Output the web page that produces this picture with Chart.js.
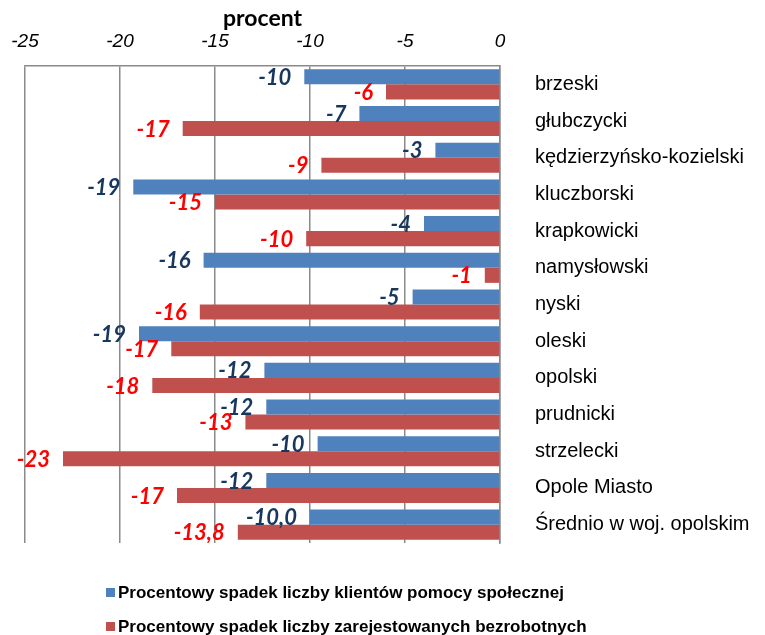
<!DOCTYPE html>
<html lang="pl">
<head>
  <meta charset="UTF-8">
  <title>procent</title>
  <script src="https://cdn.jsdelivr.net/npm/chart.js"></script>
  <style>
    html, body { margin: 0; padding: 0; background: #fff; }
    #wrap { width: 765px; height: 635px; }
  </style>
</head>
<body>
  <div id="wrap">
    <canvas id="dropChart" width="765" height="635"></canvas>
  </div>

  <script>
    // dane
    const categories = [
      'brzeski', 'głubczycki', 'kędzierzyńsko-kozielski', 'kluczborski',
      'krapkowicki', 'namysłowski', 'nyski', 'oleski', 'opolski',
      'prudnicki', 'strzelecki', 'Opole Miasto', 'Średnio w woj. opolskim'
    ];
    const clientDrop = [-10.3, -7.4, -3.4, -19.3, -4.0, -15.6, -4.6, -19.0, -12.4, -12.3, -9.6, -12.3, -10.0];
    const unemployedDrop = [-6.0, -16.7, -9.4, -15.0, -10.2, -0.8, -15.8, -17.3, -18.3, -13.4, -23.0, -17.0, -13.8];
    const xTicks = [-25, -20, -15, -10, -5, 0];
    const seriesNames = [
      'Procentowy spadek liczby klientów pomocy społecznej',
      'Procentowy spadek liczby zarejestowanych bezrobotnych'
    ];

    const barColors = ['#4F81BD', '#C0504D'];
    const labelColors = ['#17375E', '#FF0000'];
    const gridColor = '#8a8a8a';

    // etykiety wartości: ostatnia kategoria (średnia) z jednym miejscem po przecinku
    function formatValue(v, i) {
      if (i === categories.length - 1) return v.toFixed(1).replace('.', ',');
      return String(Math.round(v));
    }

    const valueLabels = {
      id: 'valueLabels',
      afterDatasetsDraw(chart) {
        const ctx = chart.ctx;
        ctx.save();
        ctx.font = 'italic bold 22px Lato';
        ctx.textAlign = 'right';
        ctx.textBaseline = 'middle';
        chart.data.datasets.forEach((ds, di) => {
          const meta = chart.getDatasetMeta(di);
          ctx.fillStyle = labelColors[di];
          meta.data.forEach((bar, i) => {
            ctx.fillText(formatValue(ds.data[i], i), bar.x - 13, bar.y + 1);
          });
        });
        ctx.restore();
      }
    };

    // legenda w dwóch wierszach, wyrównana do lewej
    const stackedLegend = {
      id: 'stackedLegend',
      afterDraw(chart) {
        const ctx = chart.ctx;
        ctx.save();
        ctx.font = 'bold 17px "Liberation Sans", Arial';
        ctx.textBaseline = 'middle';
        ctx.textAlign = 'left';
        const rows = [592, 626];
        chart.data.datasets.forEach((ds, di) => {
          ctx.fillStyle = ds.backgroundColor;
          ctx.fillRect(106, rows[di] - 4, 9, 9);
          ctx.fillStyle = '#000';
          ctx.fillText(ds.label, 118, rows[di] + 1);
        });
        ctx.restore();
      }
    };

    const ctx = document.getElementById('dropChart').getContext('2d');
    const dropChart = new Chart(ctx, {
      type: 'bar',
      data: {
        labels: categories,
        datasets: [
          { label: seriesNames[0], data: clientDrop, backgroundColor: barColors[0] },
          { label: seriesNames[1], data: unemployedDrop, backgroundColor: barColors[1] }
        ]
      },
      options: {
        indexAxis: 'y',
        responsive: false,
        animation: false,
        layout: { padding: { top: 0, left: 25, right: 0, bottom: 92 } },
        datasets: {
          bar: { categoryPercentage: 0.82, barPercentage: 1.0 }
        },
        plugins: {
          legend: { display: false },
          tooltip: { enabled: false }
        },
        scales: {
          x: {
            position: 'top',
            min: -25,
            max: 0,
            afterBuildTicks(scale) {
              scale.ticks = xTicks.map(v => ({ value: v }));
            },
            afterFit(scale) {
              scale.height = 66;
              scale.paddingLeft = 0;
            },
            grid: { color: gridColor, lineWidth: 1.5, drawTicks: false },
            border: { color: gridColor, width: 1.5 },
            ticks: {
              color: '#000',
              padding: 13,
              font: { family: '"Liberation Sans", Arial', size: 19, style: 'italic' }
            },
            title: {
              display: true,
              text: 'procent',
              color: '#000',
              padding: { top: 5, bottom: 0 },
              font: { family: 'Lato', size: 23, weight: 'bold' }
            }
          },
          y: {
            position: 'right',
            afterFit(scale) { scale.width = 265; },
            grid: { display: false, drawTicks: false },
            border: { display: true, color: gridColor, width: 1.5 },
            ticks: {
              color: '#000',
              padding: 35,
              font: { family: '"Liberation Sans", Arial', size: 20 }
            }
          }
        }
      },
      plugins: [valueLabels, stackedLegend]
    });
  </script>
</body>
</html>
